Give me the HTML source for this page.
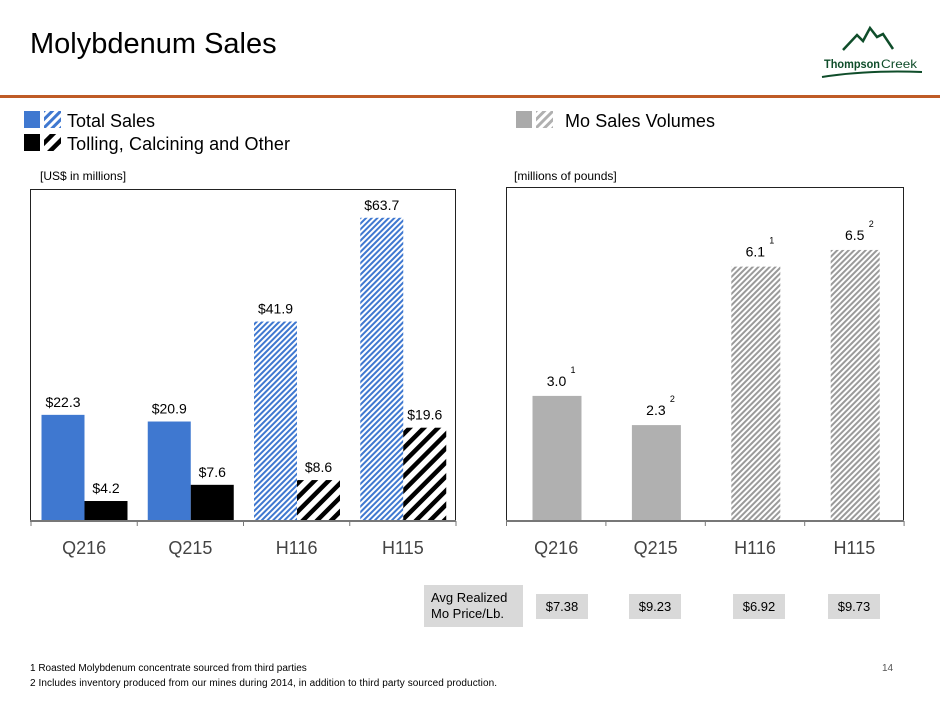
<!DOCTYPE html>
<html><head><meta charset="utf-8"><style>
body{margin:0;width:940px;height:705px;background:#fff;overflow:hidden;font-family:"Liberation Sans",sans-serif;position:relative}
.a{position:absolute}
</style></head><body>
<div class="a" style="left:30px;top:28px;font-size:29px;color:#000">Molybdenum Sales</div>
<svg class="a" style="left:815px;top:25px" width="125" height="55">
<polyline points="28,25 42,10 48,16 55,3 62,12 68,9 78,24" fill="none" stroke="#0f4d2a" stroke-width="2.5"/>
<text x="9" y="43" font-family="Liberation Sans,sans-serif" font-size="12" font-weight="bold" fill="#0f4d2a" textLength="56" lengthAdjust="spacingAndGlyphs">Thompson</text>
<text x="66" y="43" font-family="Liberation Sans,sans-serif" font-size="12" fill="#0f4d2a" textLength="36" lengthAdjust="spacingAndGlyphs">Creek</text>
<path d="M7,52 Q50,45 107,47" stroke="#0f4d2a" stroke-width="2" fill="none"/>
</svg>
<div class="a" style="left:0;top:95px;width:940px;height:3px;background:#bf5b26"></div>

<svg class="a" style="left:0;top:0" width="940" height="705">
<defs>
<pattern id="pb" width="4" height="4" patternUnits="userSpaceOnUse" patternTransform="rotate(45)"><rect width="4" height="4" fill="#fff"/><rect width="2" height="4" fill="#3f78d0"/></pattern>
<pattern id="pk" width="10" height="10" patternUnits="userSpaceOnUse" patternTransform="rotate(45)"><rect width="10" height="10" fill="#fff"/><rect width="4.5" height="10" fill="#000"/></pattern>
<pattern id="pg" width="4" height="4" patternUnits="userSpaceOnUse" patternTransform="rotate(45)"><rect width="4" height="4" fill="#fff"/><rect width="2" height="4" fill="#9a9a9a"/></pattern>
<pattern id="pbl" width="6" height="6" patternUnits="userSpaceOnUse" patternTransform="rotate(45)"><rect width="6" height="6" fill="#fff"/><rect width="3" height="6" fill="#3f78d0"/></pattern>
<pattern id="pgl" width="6" height="6" patternUnits="userSpaceOnUse" patternTransform="rotate(45)"><rect width="6" height="6" fill="#fff"/><rect width="3" height="6" fill="#b0b0b0"/></pattern>
</defs>
<g>
<rect x="24" y="111" width="16" height="17" fill="#3f78d0"/>
<rect x="44" y="111" width="17" height="17" fill="url(#pbl)"/>
<text x="67" y="127" font-size="18">Total Sales</text>
<rect x="24" y="134" width="16" height="17" fill="#000"/>
<rect x="44" y="134" width="17" height="17" fill="url(#pk)"/>
<text x="67" y="150" font-size="18" textLength="223">Tolling, Calcining and Other</text>
<rect x="516" y="111" width="16" height="17" fill="#aaa"/>
<rect x="536" y="111" width="17" height="17" fill="url(#pgl)"/>
<text x="565" y="127" font-size="18" textLength="150">Mo Sales Volumes</text>
</g>
<text x="40" y="180" font-size="12">[US$ in millions]</text>
<text x="514" y="180" font-size="12">[millions of pounds]</text>
<rect x="30.5" y="189.5" width="425" height="332" fill="none" stroke="#222" stroke-width="1"/>
<rect x="506.5" y="187.5" width="397" height="334" fill="none" stroke="#222" stroke-width="1"/>
<g id="lc"></g><g id="rc"></g>
<rect x="424" y="585" width="99" height="42" fill="#d9d9d9"/>
<text x="431" y="602" font-size="13">Avg Realized</text>
<text x="431" y="618" font-size="13">Mo Price/Lb.</text>
<g id="prices"></g>
<text x="30" y="671" font-size="10">1 Roasted Molybdenum concentrate sourced from third parties</text>
<text x="30" y="686" font-size="10" textLength="467">2 Includes inventory produced from our mines during 2014, in addition to third party sourced production.</text>
<text x="882" y="671" font-size="10" fill="#555">14</text>
</svg>
<script>
const categories=["Q216","Q215","H116","H115"];
const totalSales=[22.3,20.9,41.9,63.7];
const tollingSales=[4.2,7.6,8.6,19.6];
const moVolumes=[3.0,2.3,6.1,6.5];
const moNotes=["1","2","1","2"];
const prices=["$7.38","$9.23","$6.92","$9.73"];
const hatched=[false,false,true,true];
const NS="http://www.w3.org/2000/svg";
function mk(p,t,a){const e=document.createElementNS(NS,t);for(const k in a)e.setAttribute(k,a[k]);p.appendChild(e);return e;}
const base=521;
// left
const lc=document.getElementById('lc');
const lx0=31,lgw=106.25,ly=v=>base-v*4.76;
categories.forEach((c,i)=>{
 const gx=lx0+i*lgw;
 const b1=mk(lc,'rect',{x:gx+10.5,y:ly(totalSales[i]),width:43,height:base-ly(totalSales[i]),fill:hatched[i]?'url(#pb)':'#3f78d0'});
 
 
 const b2=mk(lc,'rect',{x:gx+53.5,y:ly(tollingSales[i]),width:43,height:base-ly(tollingSales[i]),fill:hatched[i]?'url(#pk)':'#000'});
 
 
 const t1=mk(lc,'text',{x:gx+32,y:ly(totalSales[i])-8,'font-size':14,'text-anchor':'middle'});t1.textContent='$'+totalSales[i].toFixed(1);
 
 
 const t2=mk(lc,'text',{x:gx+75,y:ly(tollingSales[i])-8,'font-size':14,'text-anchor':'middle'});t2.textContent='$'+tollingSales[i].toFixed(1);
 
 
 const xl=mk(lc,'text',{x:gx+lgw/2,y:554,'font-size':18,fill:'#444','text-anchor':'middle'});xl.textContent=c;
 
 
});
mk(lc,'line',{x1:30,x2:456,y1:base,y2:base,stroke:'#777','stroke-width':2});
for(let i=0;i<=4;i++)mk(lc,'line',{x1:lx0+i*lgw,x2:lx0+i*lgw,y1:base,y2:base+5,stroke:'#777'});
// right
const rc=document.getElementById('rc');
const rx0=506.5,rgw=99.4,ry=v=>base-v*41.7;
categories.forEach((c,i)=>{
 const gx=rx0+i*rgw;
 const b=mk(rc,'rect',{x:gx+26,y:ry(moVolumes[i]),width:49,height:base-ry(moVolumes[i]),fill:hatched[i]?'url(#pg)':'#b0b0b0'});
 
 
 const t=mk(rc,'text',{x:gx+50,y:ry(moVolumes[i])-10,'font-size':14,'text-anchor':'middle'});t.textContent=moVolumes[i].toFixed(1);
 
 
 const s=mk(rc,'text',{x:gx+64,y:ry(moVolumes[i])-23,'font-size':9});s.textContent=moNotes[i];
 
 
 const xl=mk(rc,'text',{x:gx+rgw/2,y:554,'font-size':18,fill:'#444','text-anchor':'middle'});xl.textContent=c;
 
 
});
mk(rc,'line',{x1:506,x2:904,y1:base,y2:base,stroke:'#777','stroke-width':2});
for(let i=0;i<=4;i++)mk(rc,'line',{x1:rx0+i*rgw,x2:rx0+i*rgw,y1:base,y2:base+5,stroke:'#777'});
// prices
const pg=document.getElementById('prices');
const px=[536,629,733,828];
prices.forEach((p,i)=>{
 const r=mk(pg,'rect',{x:px[i],y:594,width:52,height:25,fill:'#d9d9d9'});
 
 
 const t=mk(pg,'text',{x:px[i]+26,y:611,'font-size':13,'text-anchor':'middle'});t.textContent=p;
 
 
});
</script>
</body></html>
